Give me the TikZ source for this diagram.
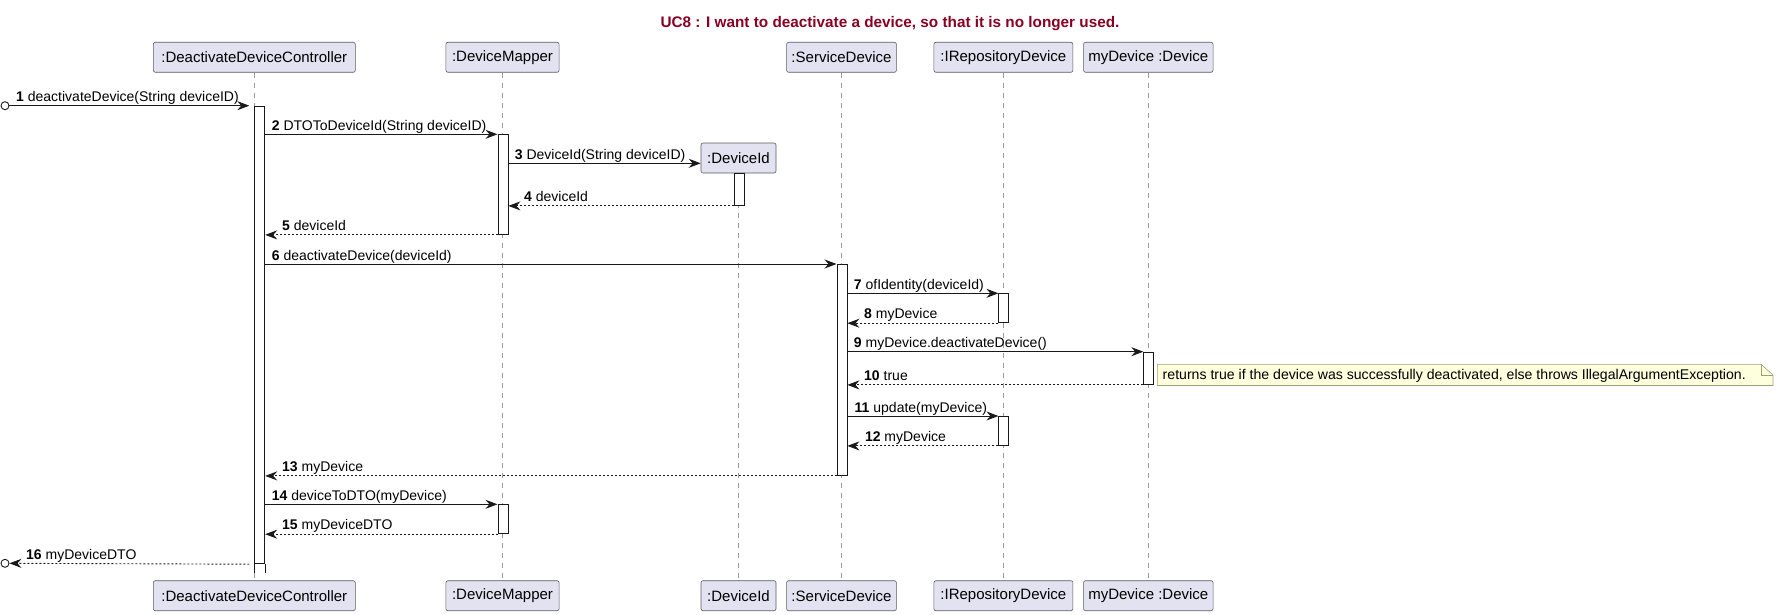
\documentclass[tikz,border=0pt]{standalone}
\usepackage{fontspec}
\setmainfont{Liberation Sans}
\usetikzlibrary{arrows.meta}
\definecolor{partfill}{HTML}{E2E2F0}
\definecolor{partdraw}{HTML}{5A5A66}
\definecolor{notefill}{HTML}{FEFFDD}
\definecolor{notedraw}{HTML}{A0A078}
\definecolor{titlecol}{HTML}{880022}
\definecolor{lifecol}{HTML}{9A9A9A}
\begin{document}
\begin{tikzpicture}[x=1pt,y=-1pt,
 part/.style={draw=partdraw, fill=partfill, line width=0.6pt, rounded corners=2pt, minimum height=30pt, inner sep=0pt, font=\fontsize{15}{18}\selectfont},
 life/.style={draw=lifecol, line width=0.7pt, dash pattern=on 5pt off 5pt},
 actbar/.style={draw=black!90, fill=white, line width=0.9pt, minimum width=10pt, inner sep=0pt, anchor=north west},
 msg/.style={draw=black!90, line width=0.9pt, -{Stealth[length=12pt,width=9pt,inset=4pt]}},
 ret/.style={msg, dash pattern=on 2pt off 2pt},
 lbl/.style={anchor=base west, inner sep=0pt, font=\fontsize{14}{16}\selectfont},
 endpt/.style={circle, draw=black!90, line width=0.9pt, fill=white, inner sep=0pt, minimum size=8pt},
]
\useasboundingbox (0,0) rectangle (1776,615);

% title
\node[font=\fontsize{15.3}{18}\selectfont\bfseries, text=titlecol, inner sep=0pt] (title) at (890,24) {UC8 : I want to deactivate a device, so that it is no longer used.};

% participants top
\node[part, minimum width=202pt]   (ddcT) at (254.3,57.3)  {:DeactivateDeviceController};
\node[part, minimum width=113.2pt] (dmT)  at (502.5,57.3)  {:DeviceMapper};
\node[part, minimum width=75pt]    (didT) at (738.5,158)   {:DeviceId};
\node[part, minimum width=109.8pt] (sdT)  at (841.5,57.3)  {:ServiceDevice};
\node[part, minimum width=139pt]   (irT)  at (1003.4,57.3) {:IRepositoryDevice};
\node[part, minimum width=129.5pt] (mdT)  at (1148.3,57.3) {myDevice :Device};
% participants bottom
\node[part, minimum width=202pt]   (ddcB) at (254.3,595.7)  {:DeactivateDeviceController};
\node[part, minimum width=113.2pt] (dmB)  at (502.5,595.7)  {:DeviceMapper};
\node[part, minimum width=75pt]    (didB) at (738.5,595.7)  {:DeviceId};
\node[part, minimum width=109.8pt] (sdB)  at (841.5,595.7)  {:ServiceDevice};
\node[part, minimum width=139pt]   (irB)  at (1003.4,595.7) {:IRepositoryDevice};
\node[part, minimum width=129.5pt] (mdB)  at (1148.3,595.7) {myDevice :Device};

% lifelines
\foreach \n in {ddc,dm,did,sd,ir,md} \draw[life] (\n T.south) -- (\n B.north);

% activation bars
\node[actbar, minimum height=457.6pt] (ddcA) at (254.3,105.7) {};
\draw[draw=black!90, line width=0.9pt] (ddcA.south west) -- ++(0,8.4) (ddcA.south east) -- ++(0,8.4);
\node[actbar, minimum height=99.7pt] (dmA1) at (497.5,134.3) {};
\node[actbar, minimum height=29pt]   (dmA2) at (497.5,504.3) {};
\node[actbar, minimum height=31.7pt] (didA) at (733.5,173.3) {};
\node[actbar, minimum height=211pt]  (sdA)  at (836.5,264) {};
\node[actbar, minimum height=29pt]   (irA1) at (998.4,293.3) {};
\node[actbar, minimum height=29pt]   (irA2) at (998.4,416) {};
\node[actbar, minimum height=32.3pt] (mdA)  at (1143.3,351.7) {};

% end points
\node[endpt] (src) at (5,105.7) {};
\node[endpt] (snk) at (5,563.3) {};

% messages
\draw[msg] (src.east) -- ([xshift=-5pt]ddcA.north west);
\node[lbl] (l1) at (16,101.7) {\textbf{1} deactivateDevice(String deviceID)};

\draw[msg] (ddcA.east |- dmA1.north) -- (dmA1.north west);
\node[lbl] (l2) at (271.7,130.3) {\textbf{2} DTOToDeviceId(String deviceID)};

\draw[msg] (dmA1.east |- 0,163.3) -- (didT.west |- 0,163.3);
\node[lbl] (l3) at (514.7,159.3) {\textbf{3} DeviceId(String deviceID)};

\draw[ret] (didA.south west) -- (dmA1.east |- didA.south);
\node[lbl] (l4) at (524,201) {\textbf{4} deviceId};

\draw[ret] (dmA1.south west) -- (ddcA.east |- dmA1.south);
\node[lbl] (l5) at (282,230) {\textbf{5} deviceId};

\draw[msg] (ddcA.east |- sdA.north) -- (sdA.north west);
\node[lbl] (l6) at (271.7,260) {\textbf{6} deactivateDevice(deviceId)};

\draw[msg] (sdA.east |- irA1.north) -- (irA1.north west);
\node[lbl] (l7) at (853.7,289.3) {\textbf{7} ofIdentity(deviceId)};

\draw[ret] (irA1.south west) -- (sdA.east |- irA1.south);
\node[lbl] (l8) at (864,318.3) {\textbf{8} myDevice};

\draw[msg] (sdA.east |- mdA.north) -- (mdA.north west);
\node[lbl] (l9) at (853.7,347.7) {\textbf{9} myDevice.deactivateDevice()};

\draw[ret] (mdA.south west) -- (sdA.east |- mdA.south);
\node[lbl] (l10) at (864,380) {\textbf{10} true};

\draw[msg] (sdA.east |- irA2.north) -- (irA2.north west);
\node[lbl] (l11) at (854.5,412) {\textbf{11} update(myDevice)};

\draw[ret] (irA2.south west) -- (sdA.east |- irA2.south);
\node[lbl] (l12) at (864.8,441) {\textbf{12} myDevice};

\draw[ret] (sdA.south west) -- (ddcA.east |- sdA.south);
\node[lbl] (l13) at (282,471) {\textbf{13} myDevice};

\draw[msg] (ddcA.east |- dmA2.north) -- (dmA2.north west);
\node[lbl] (l14) at (271.7,500.3) {\textbf{14} deviceToDTO(myDevice)};

\draw[ret] (dmA2.south west) -- (ddcA.east |- dmA2.south);
\node[lbl] (l15) at (282,529.3) {\textbf{15} myDeviceDTO};

\draw[ret] ([xshift=-5pt]ddcA.south west) -- (snk.east);
\node[lbl] (l16) at (26,559.3) {\textbf{16} myDeviceDTO};

% note
\draw[draw=notedraw, fill=notefill, line width=0.6pt] (1157.3,364.3) -- (1761,364.3) -- (1773,375) -- (1773,385.5) -- (1157.3,385.5) -- cycle;
\draw[draw=notedraw, line width=0.6pt] (1761,364.3) -- (1761,375) -- (1773,375);
\node[anchor=west, inner sep=0pt, font=\fontsize{14.1}{16}\selectfont] (note) at (1162.5,375.5) {returns true if the device was successfully deactivated, else throws IllegalArgumentException.};
\end{tikzpicture}
\end{document}
